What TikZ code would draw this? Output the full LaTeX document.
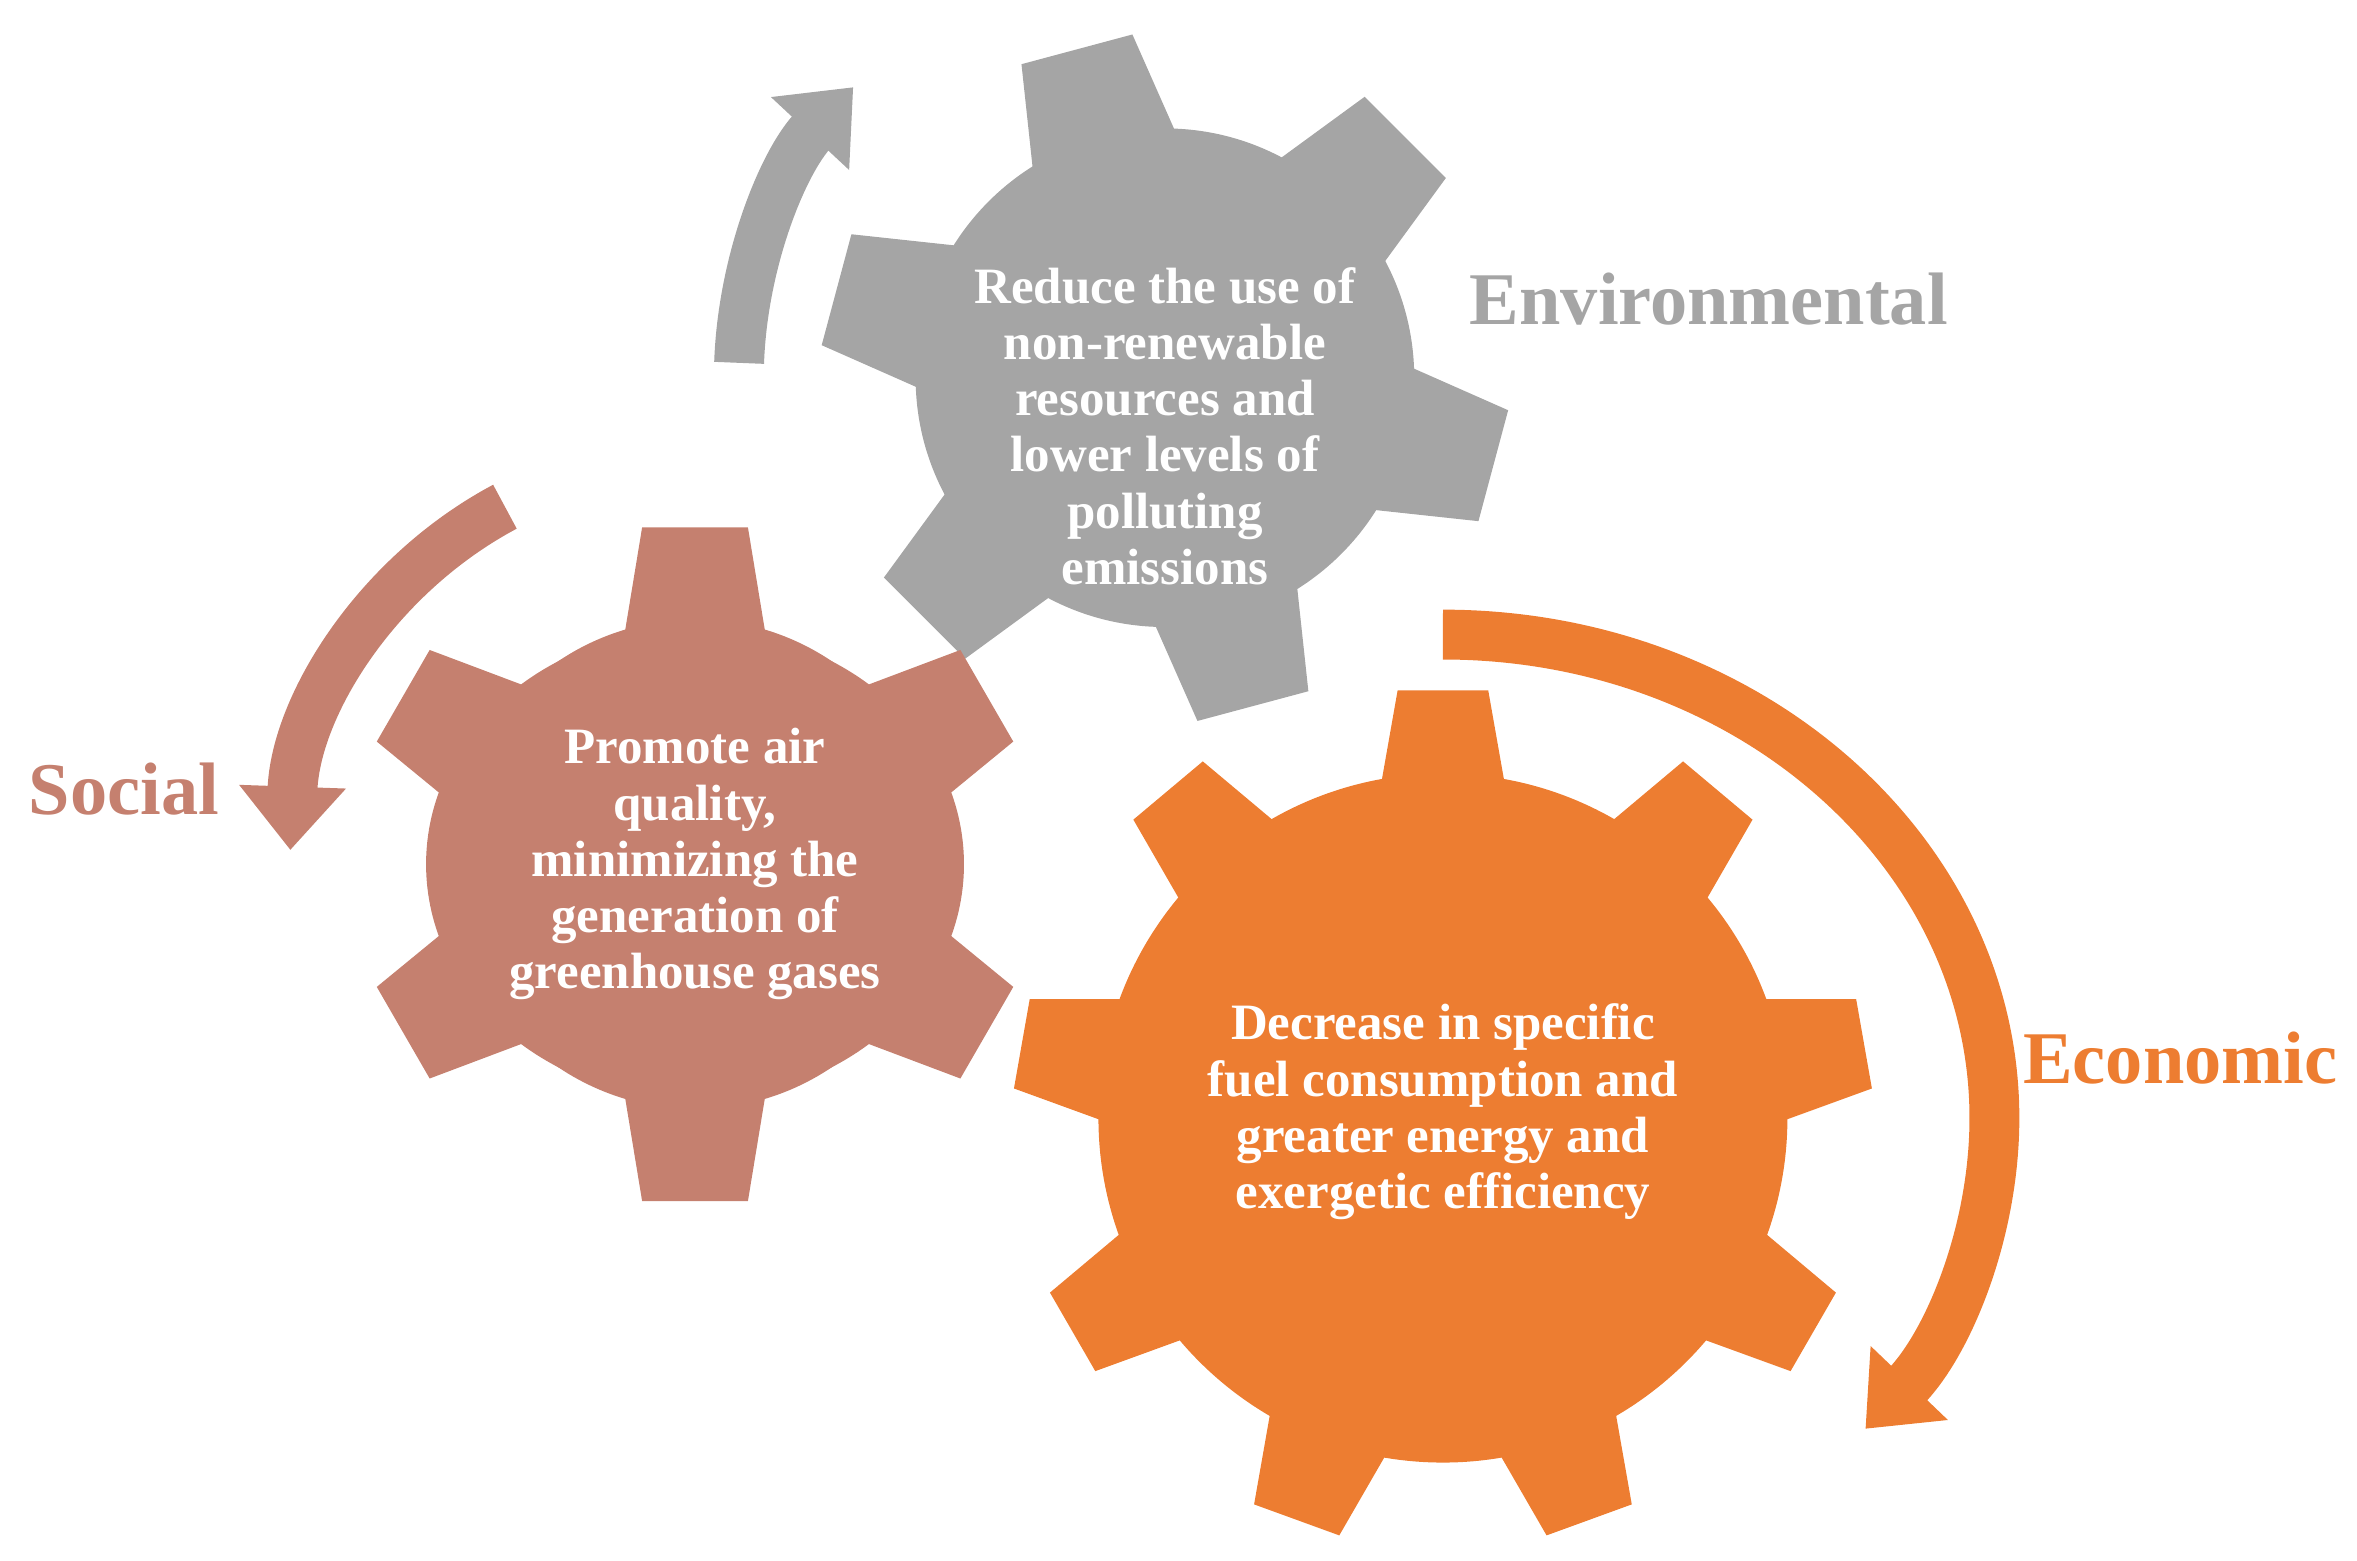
\documentclass[tikz,border=0pt]{standalone}
\usepackage{fontspec}
\setmainfont{Liberation Serif}
\usetikzlibrary{arrows.meta,calc}
\definecolor{envc}{HTML}{A5A5A5}
\definecolor{socc}{HTML}{C5806F}
\definecolor{ecoc}{HTML}{ED7D31}
\tikzset{
  gtext/.style={text=white,font=\bfseries\fontsize{9.6}{10.6}\selectfont,align=center},
  lbl/.style={font=\bfseries\fontsize{14}{16}\selectfont},
  bigarrow/.style={line width=0.33cm,-{Triangle[width=0.68cm,length=0.42cm]}}
}
\newcommand{\gear}[8]{%
  \fill[#7] (#1,#2) circle (#3);
  \foreach \a in {#8}{
    \fill[#7,shift={(#1,#2)},rotate=\a] (#3-0.3,-#5) -- (#4,-#6) -- (#4,#6) -- (#3-0.3,#5) -- cycle;
  }
}
\begin{document}
\begin{tikzpicture}
\useasboundingbox (0,0) rectangle (15.6,10.33);
% gears
\gear{7.71}{7.83}{1.65}{2.25}{0.52}{0.38}{envc}{105,45,-15,-75,-135,165}
\fill[socc] (4.60,4.61) ellipse (1.78 and 1.56);
\gear{4.60}{4.61}{1.62}{2.23}{0.5}{0.35}{socc}{90,30,-30,-90,150,210}
\gear{9.55}{2.93}{2.28}{2.83}{0.45}{0.3}{ecoc}{90,50,10,-30,-70,-110,-150,170,130}
% arrows
\draw[bigarrow,envc] ($(7.71,7.83)+(178:2.82)$) arc (178:137:2.82);
\draw[bigarrow,socc] ($(4.60,4.61)+(118:2.68)$) arc (118:178:2.68);
\draw[bigarrow,ecoc] (9.55,6.13) arc (90:-40:3.65 and 3.2);
% texts
\node[gtext] (te) at (7.71,7.51) {Reduce the use of\\non-renewable\\resources and\\lower levels of\\polluting\\emissions};
\node[gtext] (ts) at (4.60,4.61) {Promote air\\quality,\\minimizing the\\generation of\\greenhouse gases};
\node[gtext] (tc) at (9.55,2.97) {Decrease in specific\\fuel consumption and\\greater energy and\\exergetic efficiency};
\node[lbl,text=envc] (le) at (11.31,8.35) {Environmental};
\node[lbl,text=socc] (ls) at (0.82,5.11) {Social};
\node[lbl,text=ecoc] (lc) at (14.43,3.33) {Economic};
\end{tikzpicture}
\end{document}
